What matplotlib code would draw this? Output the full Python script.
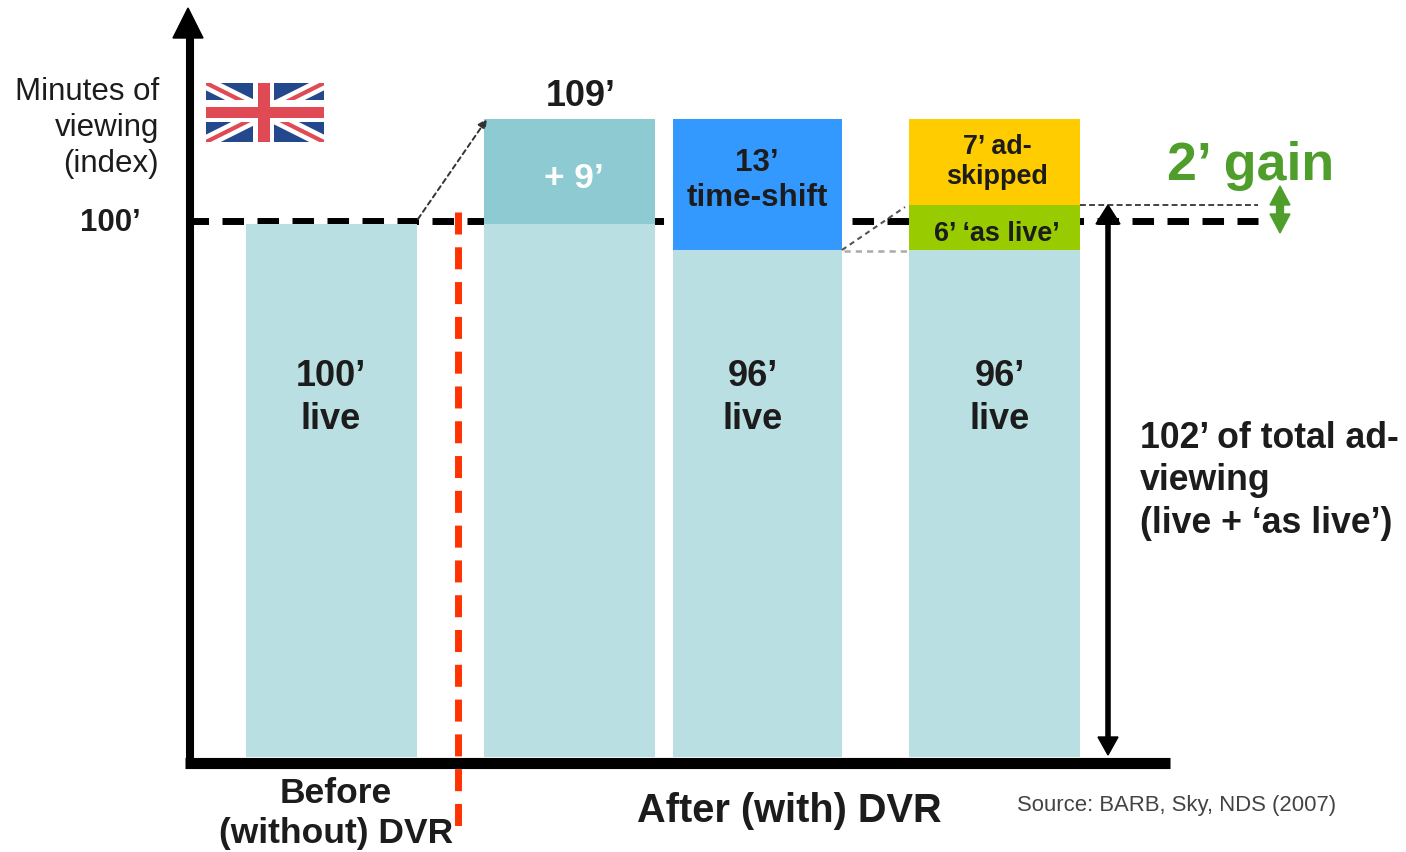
import matplotlib
matplotlib.use('Agg')
import matplotlib.pyplot as plt
import numpy as np
from matplotlib.patches import Rectangle, Polygon

plt.rcParams['font.family'] = ['Liberation Sans', 'DejaVu Sans']

# minutes of viewing, stacked per bar
bar_labels = ['before', 'after_uplift', 'after_timeshift', 'after_adskip']
live = [100, 100, 96, 96]
uplift = [0, 9, 0, 0]
time_shift = [0, 0, 13, 0]
as_live = [0, 0, 0, 6]
ad_skipped = [0, 0, 0, 7]

# the value axis is a schematic, not linear
scale_minutes = [0, 96, 100, 102, 109]
scale_height = [0, 507, 533, 552, 638]

C_LIVE = '#b9dfe2'
C_UPLIFT = '#8ecad2'
C_SHIFT = '#3399ff'
C_SKIP = '#ffcc00'
C_ASLIVE = '#99cc00'
C_GAIN = '#4f9e2b'
C_RED = '#ff3300'
C_FLAG_RED = '#e04a55'


def forward(v):
    return np.interp(v, scale_minutes, scale_height)


def inverse(h):
    return np.interp(h, scale_height, scale_minutes)


fig = plt.figure(figsize=(14.06, 8.52), dpi=100)

# bars
ax = fig.add_axes([0, (852 - 757) / 852, 1, 638 / 852])
ax.set_yscale('function', functions=(forward, inverse))
ax.set_xlim(0, 1406)
ax.set_ylim(0, 109)
ax.axis('off')

bar_left = [246, 484, 673, 909]
bar_width = [171, 171, 169, 171]
bottom = np.zeros(4)
for values, color in [(live, C_LIVE), (uplift, C_UPLIFT), (time_shift, C_SHIFT),
                      (as_live, C_ASLIVE), (ad_skipped, C_SKIP)]:
    ax.bar(bar_left, values, width=bar_width, bottom=bottom, align='edge', color=color, zorder=3)
    bottom += np.array(values)

# axes and annotations in pixel coordinates
ov = fig.add_axes([0, 0, 1, 1], zorder=-1)
ov.set_xlim(0, 1406)
ov.set_ylim(852, 0)
ov.axis('off')
top = fig.add_axes([0, 0, 1, 1], zorder=5)
top.set_xlim(0, 1406)
top.set_ylim(852, 0)
top.axis('off')
top.patch.set_alpha(0)

# 100' reference line sits behind the bars
ov.plot([187, 1258], [221, 221], color='black', lw=5, dashes=(3.1, 1.94), dash_capstyle='butt')

# before / after divider, under the x axis
top.plot([458, 458], [212, 827], color=C_RED, lw=5, dashes=(3.17, 1.84), dash_capstyle='butt', zorder=1)

# main axes
top.plot([189.5, 189.5], [36, 763], color='black', lw=5.8, solid_capstyle='butt', zorder=2)
top.plot([185, 1170], [762.5, 762.5], color='black', lw=8, solid_capstyle='butt', zorder=2)
top.add_patch(Polygon([[188, 8], [173, 38], [203, 38]], color='black', zorder=2))

# dotted connectors
top.annotate('', xy=(487, 119), xytext=(418, 219),
             arrowprops=dict(arrowstyle='-|>', color='#333333', lw=1.4, ls=(0, (2.5, 2)), mutation_scale=13,
                             shrinkA=0, shrinkB=0))
top.plot([842, 905], [250, 207], color='#555555', lw=1.5, ls=(0, (2.5, 2)))
top.plot([844, 909], [251, 251], color='#aaaaaa', lw=1.8, ls=(0, (2.5, 2)))
top.plot([1080, 1258], [205, 205], color='#222222', lw=1.2, ls=(0, (3.5, 2)))

# total ad-viewing arrow
top.plot([1108, 1108], [215, 745], color='black', lw=4, solid_capstyle='butt')
top.add_patch(Polygon([[1108, 205], [1096, 224], [1120, 224]], color='black'))
top.add_patch(Polygon([[1108, 755], [1098, 737], [1118, 737]], color='black'))

# gain arrow
top.plot([1280, 1280], [200, 220], color=C_GAIN, lw=6, solid_capstyle='butt')
top.add_patch(Polygon([[1280, 186], [1270, 205], [1290, 205]], color=C_GAIN))
top.add_patch(Polygon([[1280, 233], [1270, 214], [1290, 214]], color=C_GAIN))

# union flag
fx0, fx1, fy0, fy1 = 206, 324, 83, 142
flag = Rectangle((fx0, fy0), fx1 - fx0, fy1 - fy0, facecolor='#23488c', edgecolor='none', zorder=2)
top.add_patch(flag)
for (xa, ya, xb, yb) in [(fx0, fy0, fx1, fy1), (fx0, fy1, fx1, fy0)]:
    line, = top.plot([xa, xb], [ya, yb], color='white', lw=9.5, solid_capstyle='butt', zorder=3)
    line.set_clip_path(flag)
    line, = top.plot([xa, xb], [ya, yb], color=C_FLAG_RED, lw=3, solid_capstyle='butt', zorder=3)
    line.set_clip_path(flag)
top.add_patch(Rectangle((fx0, 100), fx1 - fx0, 22, facecolor='white', edgecolor='none', zorder=3))
top.add_patch(Rectangle((253, fy0), 21, fy1 - fy0, facecolor='white', edgecolor='none', zorder=3))
top.add_patch(Rectangle((fx0, 107), fx1 - fx0, 11, facecolor=C_FLAG_RED, edgecolor='none', zorder=4))
top.add_patch(Rectangle((258, fy0), 12, fy1 - fy0, facecolor=C_FLAG_RED, edgecolor='none', zorder=4))


def label(x, y, s, size=24, weight='normal', color='#1c1c1c', ha='center', linespacing=1.0):
    top.text(x, y, s, fontsize=size, fontweight=weight, color=color, ha=ha, va='center',
             linespacing=linespacing, zorder=6)


label(159, 128, 'Minutes of\nviewing\n(index)', size=22.5, ha='right', linespacing=1.26)
label(110, 223, '100’', size=22.5, weight='bold')
label(581, 97, '109’', size=25.9, weight='bold')
label(331, 398, '100’\nlive', size=26, weight='bold', linespacing=1.276)
label(753, 398, '96’\nlive', size=26, weight='bold', linespacing=1.276)
label(1000, 398, '96’\nlive', size=26, weight='bold', linespacing=1.276)
label(574, 179, '+ 9’', size=25.4, weight='bold', color='white')
label(757, 180.5, '13’\ntime-shift', size=22.6, weight='bold', linespacing=1.23)
label(997, 162, '7’ ad-\nskipped', size=19.4, weight='bold', linespacing=1.23)
label(997, 234, '6’ ‘as live’', size=19.4, weight='bold')
label(1251, 166, '2’ gain', size=38.7, weight='bold', color=C_GAIN)
label(1140, 481, '102’ of total ad-\nviewing\n(live + ‘as live’)', size=25.7, weight='bold', ha='left',
      linespacing=1.277)
label(336, 813.5, 'Before\n(without) DVR', size=25.5, weight='bold', linespacing=1.3)
label(789, 811, 'After (with) DVR', size=28.6, weight='bold')
label(1177, 805, 'Source: BARB, Sky, NDS (2007)', size=15.9, color='#444444')

fig.savefig('out.png', dpi=100, facecolor='white')
